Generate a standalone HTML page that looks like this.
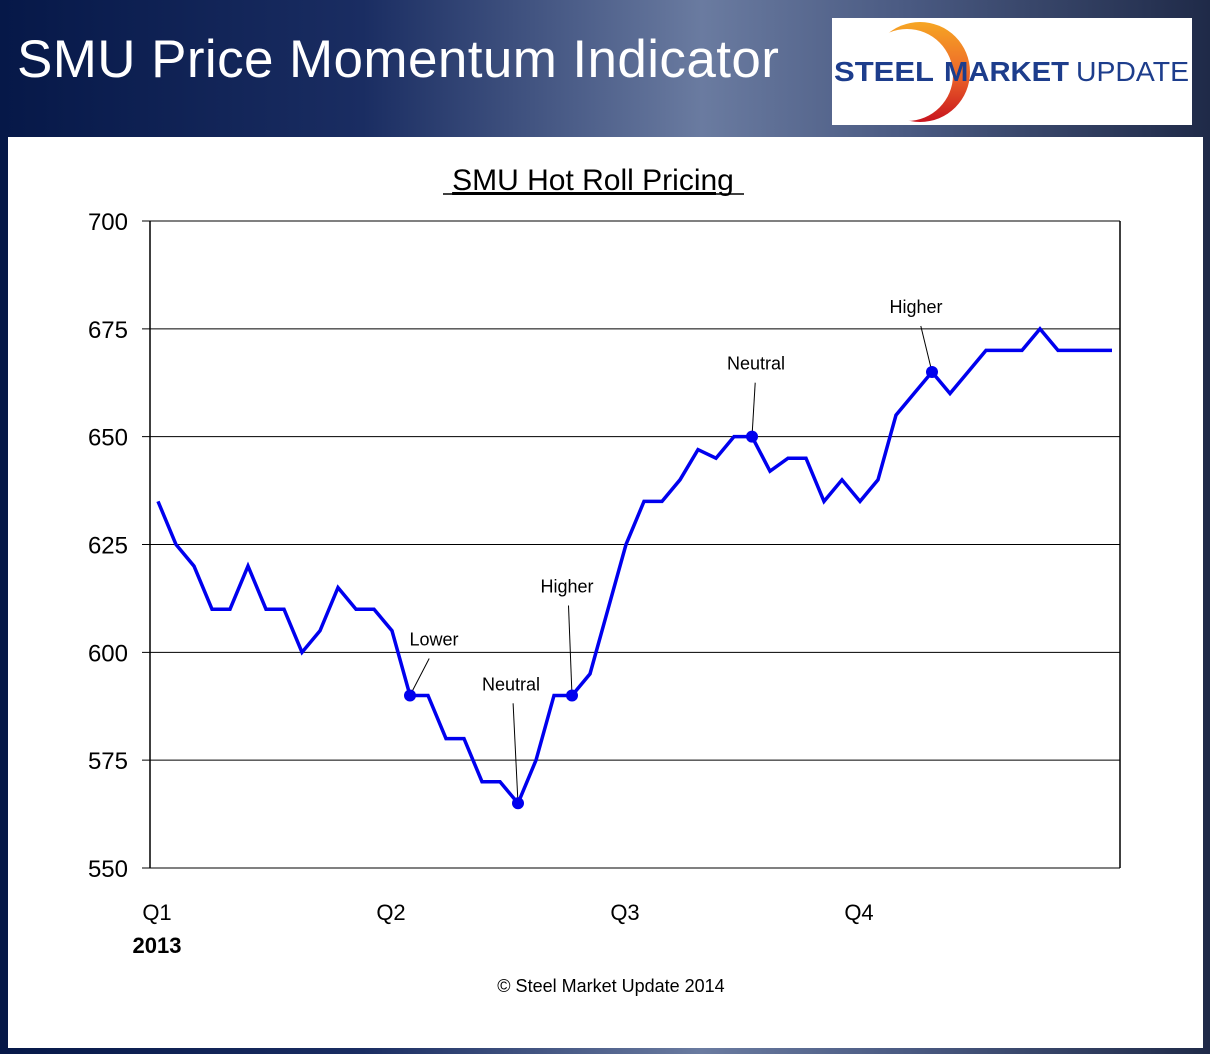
<!DOCTYPE html>
<html><head><meta charset="utf-8"><style>
body{margin:0;width:1210px;height:1054px;overflow:hidden;font-family:"Liberation Sans",sans-serif;}
#bg{position:absolute;left:0;top:0;width:1210px;height:1054px;background:linear-gradient(90deg,#061848 0%,#1a2d62 30%,#6a7ba0 58%,#4a5a82 75%,#1f2a48 100%);}
#title{position:absolute;left:17px;top:29px;color:#fff;font-size:53px;letter-spacing:0.4px;}
#logo{position:absolute;left:832px;top:18px;width:360px;height:107px;background:#fff;overflow:hidden;}
#panel{position:absolute;left:8px;top:137px;width:1195px;height:911px;background:#fff;}
</style></head><body>
<div id="bg"></div>
<div id="title">SMU Price Momentum Indicator</div>
<div id="logo">
<svg width="360" height="107">
<defs><linearGradient id="g" x1="0" y1="0" x2="0" y2="1"><stop offset="0" stop-color="#f6a623"/><stop offset="0.5" stop-color="#ee6a2a"/><stop offset="1" stop-color="#c8141e"/></linearGradient></defs>
<circle cx="88" cy="54" r="50" fill="url(#g)"/>
<circle cx="75" cy="57" r="46" fill="#fff"/>
<text x="2" y="63" font-size="28" font-weight="bold" fill="#1d3d8c" font-family="Liberation Sans, sans-serif" textLength="100" lengthAdjust="spacingAndGlyphs">STEEL</text>
<text x="112" y="63" font-size="28" font-weight="bold" fill="#1d3d8c" font-family="Liberation Sans, sans-serif" textLength="125" lengthAdjust="spacingAndGlyphs">MARKET</text>
<text x="244" y="63" font-size="28" fill="#1d3d8c" font-family="Liberation Sans, sans-serif" textLength="113" lengthAdjust="spacingAndGlyphs">UPDATE</text>
</svg></div>
<div id="panel"></div>
<svg id="chart" width="1210" height="1054" style="position:absolute;left:0;top:0"></svg>
<script>
const values=[635,625,620,610,610,620,610,610,600,605,615,610,610,605,590,590,580,580,570,570,565,575,590,590,595,610,625,635,635,640,647,645,650,650,642,645,645,635,640,635,640,655,660,665,660,665,670,670,670,675,670,670,670,670];
const yTicks=[550,575,600,625,650,675,700];
const quarterLabels=["Q1","Q2","Q3","Q4"];
const quarterIdx=[0,13,26,39];
const markerIdx=[14,20,23,33,43];
const markerLabels=["Lower","Neutral","Higher","Neutral","Higher"];
const labelOffsets=[[24,-50],[-7,-113],[-5,-103],[4,-67],[-16,-59]];
const NS="http://www.w3.org/2000/svg";
const svg=document.getElementById('chart');
const L=150,R=1120,T=221,B=868;
const y=v=>B-(v-550)/150*(B-T);
const x=i=>158+i*18;
function el(t,a,p){const e=document.createElementNS(NS,t);for(const k in a)e.setAttribute(k,a[k]);(p||svg).appendChild(e);return e;}
function txt(s,a){const e=el('text',Object.assign({'font-family':'Liberation Sans, DejaVu Sans, sans-serif'},a));e.textContent=s;return e;}
let t=txt("SMU Hot Roll Pricing",{x:593,y:190,'font-size':30,'text-anchor':'middle','text-decoration':'underline',fill:'#000'});


el('line',{x1:443,x2:744,y1:194,y2:194,stroke:'#000','stroke-width':1.5});
yTicks.forEach(v=>{
 const g=el('line',{x1:L-8,x2:R,y1:y(v),y2:y(v),stroke:'#000','stroke-width':1});
 
 
 const l=txt(String(v),{x:128,y:y(v)+9,'font-size':24,'text-anchor':'end',fill:'#000'});
 
 
});
el('line',{x1:L,x2:L,y1:T,y2:B,stroke:'#000','stroke-width':1.5});
el('line',{x1:R,x2:R,y1:T,y2:B,stroke:'#000','stroke-width':1.5});
quarterLabels.forEach((q,k)=>{
 const l=txt(q,{x:x(quarterIdx[k])-1,y:920,'font-size':22,'text-anchor':'middle',fill:'#000'});
 
 
});
t=txt("2013",{x:157,y:953,'font-size':22,'font-weight':'bold','text-anchor':'middle',fill:'#000'});


const pl=el('polyline',{points:values.map((v,i)=>x(i)+','+y(v)).join(' '),fill:'none',stroke:'#0000ee','stroke-width':3.5,'stroke-linejoin':'miter'});


markerIdx.forEach((i,k)=>{
 const px=x(i),py=y(values[i]);
 const [dx,dy]=labelOffsets[k];
 el('line',{x1:px,y1:py,x2:px+dx*0.5+ (dx>0?dx*0.3:dx*0.2),y2:py+dy+13,stroke:'#000','stroke-width':1});
 const c=el('circle',{cx:px,cy:py,r:6,fill:'#0000ee'});
 
 
 const l=txt(markerLabels[k],{x:px+dx,y:py+dy,'font-size':18,'text-anchor':'middle',fill:'#000'});
 
 
});
t=txt("© Steel Market Update 2014",{x:611,y:992,'font-size':18,'text-anchor':'middle',fill:'#000'});


</script>
</body></html>
